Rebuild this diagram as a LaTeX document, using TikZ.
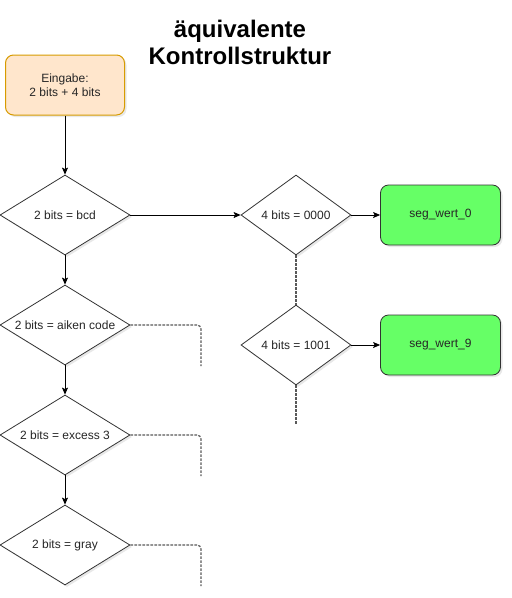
\documentclass[tikz,border=0pt]{standalone}
\usepackage{fontspec}
\setmainfont{Liberation Sans}
\usetikzlibrary{shapes.geometric,arrows.meta,shadows}
\definecolor{inFill}{HTML}{FFE6CC}
\definecolor{inDraw}{HTML}{D79B00}
\definecolor{segFill}{HTML}{66FF66}
\definecolor{lineC}{HTML}{333333}
\tikzset{
  txt/.style={font=\fontsize{12}{14}\selectfont, text=black!85},
  shade1/.style={drop shadow={opacity=0.18, shadow xshift=2pt, shadow yshift=-2pt}},
  dia/.style={shape=diamond, draw=lineC, fill=white, line width=0.8pt, inner sep=0pt, txt, shade1},
  bigdia/.style={dia, minimum width=130pt, minimum height=80pt},
  smalldia/.style={dia, minimum width=110pt, minimum height=80pt},
  segbox/.style={draw=lineC, fill=segFill, rounded corners=8pt, line width=0.8pt, minimum width=120pt, minimum height=60pt, txt, shade1},
  inbox/.style={draw=inDraw, fill=inFill, rounded corners=8pt, line width=1pt, minimum width=119pt, minimum height=60pt, txt, align=center, shade1},
  arr/.style={draw=black, line width=0.8pt, -{Stealth[length=7pt,width=6pt,inset=1.5pt]}},
  dotline/.style={draw=black!65, line width=1.2pt, dash pattern=on 2.6pt off 1.4pt},
}
\begin{document}
\begin{tikzpicture}[x=1pt,y=-1pt]
\useasboundingbox (0,0) rectangle (512,598);
\node[font=\fontsize{24}{27}\selectfont\bfseries, align=center, text=black] (title) at (240,42) {äquivalente\\Kontrollstruktur};
\node[inbox] (in) at (65,85) {Eingabe:\\2 bits + 4 bits};
\node[bigdia] (bcd) at (65,215) {\makebox[0pt]{2 bits = bcd}};
\node[bigdia] (aiken) at (65,325) {\makebox[0pt]{2 bits = aiken code}};
\node[bigdia] (ex3) at (65,435) {\makebox[0pt]{2 bits = excess 3}};
\node[bigdia] (gray) at (65,545) {\makebox[0pt]{2 bits = gray}};
\node[smalldia] (z0) at (296,215) {\makebox[0pt]{4 bits = 0000}};
\node[smalldia] (z9) at (296,345) {\makebox[0pt]{4 bits = 1001}};
\node[segbox] (s0) at (440.5,215) {seg\_wert\_0};
\node[segbox] (s9) at (440.5,345) {seg\_wert\_9};
\coordinate (aikenEnd) at (201,366);
\coordinate (ex3End) at (201,476);
\coordinate (grayEnd) at (201,586);
\coordinate (z9End) at (296,425);
\draw[arr] (in.south) -- (bcd.north);
\draw[arr] (bcd.south) -- (aiken.north);
\draw[arr] (aiken.south) -- (ex3.north);
\draw[arr] (ex3.south) -- (gray.north);
\draw[arr] (bcd.east) -- (z0.west);
\draw[arr] (z0.east) -- (s0.west);
\draw[arr] (z9.east) -- (s9.west);
\draw[dotline] (z0.south) -- (z9.north);
\draw[dotline] (z9.south) -- (z9End);
\draw[dotline, rounded corners=4pt] (aiken.east) -| (aikenEnd);
\draw[dotline, rounded corners=4pt] (ex3.east) -| (ex3End);
\draw[dotline, rounded corners=4pt] (gray.east) -| (grayEnd);
\end{tikzpicture}
\end{document}
